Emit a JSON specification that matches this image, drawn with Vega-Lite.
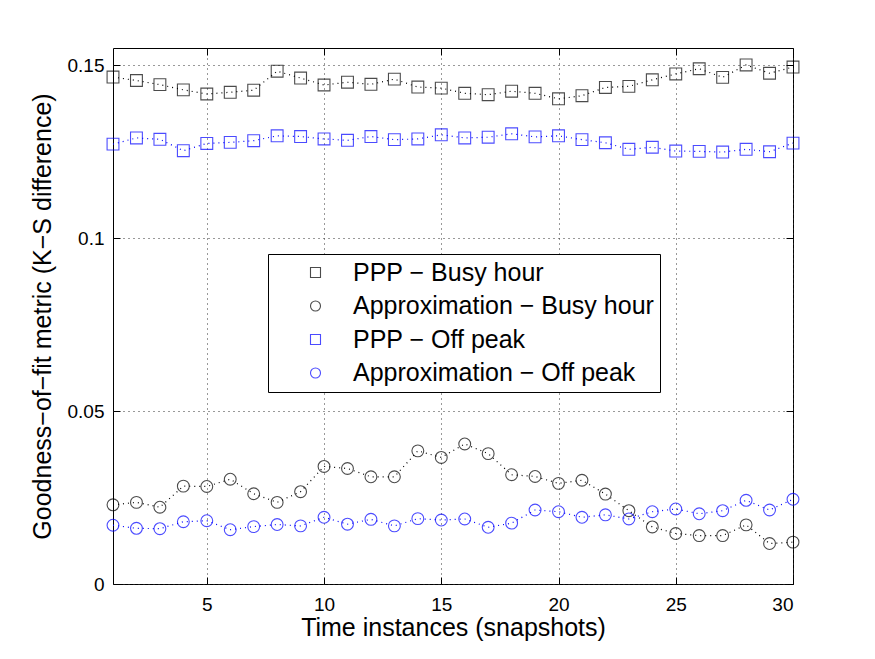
{
  "$schema": "https://vega.github.io/schema/vega-lite/v6.json",
  "autosize": "none",
  "width": 680,
  "height": 536,
  "padding": {"left": 113, "top": 48, "right": 82, "bottom": 75},
  "background": "white",
  "config": {
    "font": "Liberation Sans",
    "view": {"stroke": "#000", "strokeWidth": 1},
    "axis": {"labelFont": "Liberation Sans", "titleFont": "Liberation Sans", "labelColor": "#000", "titleColor": "#000", "titleFontWeight": "normal"},
    "legend": {"labelFont": "Liberation Sans", "labelColor": "#000"}
  },
  "data": {"values": [
    {"x":1,"v":0.1466,"s":"PPP − Busy hour"},{"x":2,"v":0.1456,"s":"PPP − Busy hour"},{"x":3,"v":0.1444,"s":"PPP − Busy hour"},{"x":4,"v":0.1429,"s":"PPP − Busy hour"},{"x":5,"v":0.1417,"s":"PPP − Busy hour"},{"x":6,"v":0.1422,"s":"PPP − Busy hour"},{"x":7,"v":0.1428,"s":"PPP − Busy hour"},{"x":8,"v":0.1483,"s":"PPP − Busy hour"},{"x":9,"v":0.1463,"s":"PPP − Busy hour"},{"x":10,"v":0.1443,"s":"PPP − Busy hour"},{"x":11,"v":0.1451,"s":"PPP − Busy hour"},{"x":12,"v":0.1445,"s":"PPP − Busy hour"},{"x":13,"v":0.1460,"s":"PPP − Busy hour"},{"x":14,"v":0.1437,"s":"PPP − Busy hour"},{"x":15,"v":0.1434,"s":"PPP − Busy hour"},{"x":16,"v":0.1419,"s":"PPP − Busy hour"},{"x":17,"v":0.1415,"s":"PPP − Busy hour"},{"x":18,"v":0.1425,"s":"PPP − Busy hour"},{"x":19,"v":0.1419,"s":"PPP − Busy hour"},{"x":20,"v":0.1403,"s":"PPP − Busy hour"},{"x":21,"v":0.1412,"s":"PPP − Busy hour"},{"x":22,"v":0.1436,"s":"PPP − Busy hour"},{"x":23,"v":0.1439,"s":"PPP − Busy hour"},{"x":24,"v":0.1458,"s":"PPP − Busy hour"},{"x":25,"v":0.1475,"s":"PPP − Busy hour"},{"x":26,"v":0.1490,"s":"PPP − Busy hour"},{"x":27,"v":0.1465,"s":"PPP − Busy hour"},{"x":28,"v":0.1501,"s":"PPP − Busy hour"},{"x":29,"v":0.1477,"s":"PPP − Busy hour"},{"x":30,"v":0.1495,"s":"PPP − Busy hour"},
    {"x":1,"v":0.0229,"s":"Approximation − Busy hour"},{"x":2,"v":0.0236,"s":"Approximation − Busy hour"},{"x":3,"v":0.0222,"s":"Approximation − Busy hour"},{"x":4,"v":0.0283,"s":"Approximation − Busy hour"},{"x":5,"v":0.0282,"s":"Approximation − Busy hour"},{"x":6,"v":0.0303,"s":"Approximation − Busy hour"},{"x":7,"v":0.0261,"s":"Approximation − Busy hour"},{"x":8,"v":0.0236,"s":"Approximation − Busy hour"},{"x":9,"v":0.0267,"s":"Approximation − Busy hour"},{"x":10,"v":0.0340,"s":"Approximation − Busy hour"},{"x":11,"v":0.0334,"s":"Approximation − Busy hour"},{"x":12,"v":0.0310,"s":"Approximation − Busy hour"},{"x":13,"v":0.0310,"s":"Approximation − Busy hour"},{"x":14,"v":0.0385,"s":"Approximation − Busy hour"},{"x":15,"v":0.0366,"s":"Approximation − Busy hour"},{"x":16,"v":0.0405,"s":"Approximation − Busy hour"},{"x":17,"v":0.0377,"s":"Approximation − Busy hour"},{"x":18,"v":0.0316,"s":"Approximation − Busy hour"},{"x":19,"v":0.0311,"s":"Approximation − Busy hour"},{"x":20,"v":0.0291,"s":"Approximation − Busy hour"},{"x":21,"v":0.0300,"s":"Approximation − Busy hour"},{"x":22,"v":0.0260,"s":"Approximation − Busy hour"},{"x":23,"v":0.0212,"s":"Approximation − Busy hour"},{"x":24,"v":0.0165,"s":"Approximation − Busy hour"},{"x":25,"v":0.0146,"s":"Approximation − Busy hour"},{"x":26,"v":0.0140,"s":"Approximation − Busy hour"},{"x":27,"v":0.0140,"s":"Approximation − Busy hour"},{"x":28,"v":0.0171,"s":"Approximation − Busy hour"},{"x":29,"v":0.0117,"s":"Approximation − Busy hour"},{"x":30,"v":0.0121,"s":"Approximation − Busy hour"},
    {"x":1,"v":0.1272,"s":"PPP − Off peak"},{"x":2,"v":0.1290,"s":"PPP − Off peak"},{"x":3,"v":0.1286,"s":"PPP − Off peak"},{"x":4,"v":0.1253,"s":"PPP − Off peak"},{"x":5,"v":0.1274,"s":"PPP − Off peak"},{"x":6,"v":0.1277,"s":"PPP − Off peak"},{"x":7,"v":0.1282,"s":"PPP − Off peak"},{"x":8,"v":0.1296,"s":"PPP − Off peak"},{"x":9,"v":0.1294,"s":"PPP − Off peak"},{"x":10,"v":0.1287,"s":"PPP − Off peak"},{"x":11,"v":0.1283,"s":"PPP − Off peak"},{"x":12,"v":0.1294,"s":"PPP − Off peak"},{"x":13,"v":0.1285,"s":"PPP − Off peak"},{"x":14,"v":0.1287,"s":"PPP − Off peak"},{"x":15,"v":0.1299,"s":"PPP − Off peak"},{"x":16,"v":0.1290,"s":"PPP − Off peak"},{"x":17,"v":0.1292,"s":"PPP − Off peak"},{"x":18,"v":0.1302,"s":"PPP − Off peak"},{"x":19,"v":0.1293,"s":"PPP − Off peak"},{"x":20,"v":0.1296,"s":"PPP − Off peak"},{"x":21,"v":0.1285,"s":"PPP − Off peak"},{"x":22,"v":0.1276,"s":"PPP − Off peak"},{"x":23,"v":0.1257,"s":"PPP − Off peak"},{"x":24,"v":0.1263,"s":"PPP − Off peak"},{"x":25,"v":0.1252,"s":"PPP − Off peak"},{"x":26,"v":0.1251,"s":"PPP − Off peak"},{"x":27,"v":0.1249,"s":"PPP − Off peak"},{"x":28,"v":0.1257,"s":"PPP − Off peak"},{"x":29,"v":0.1250,"s":"PPP − Off peak"},{"x":30,"v":0.1275,"s":"PPP − Off peak"},
    {"x":1,"v":0.0170,"s":"Approximation − Off peak"},{"x":2,"v":0.0161,"s":"Approximation − Off peak"},{"x":3,"v":0.0160,"s":"Approximation − Off peak"},{"x":4,"v":0.0180,"s":"Approximation − Off peak"},{"x":5,"v":0.0183,"s":"Approximation − Off peak"},{"x":6,"v":0.0157,"s":"Approximation − Off peak"},{"x":7,"v":0.0166,"s":"Approximation − Off peak"},{"x":8,"v":0.0172,"s":"Approximation − Off peak"},{"x":9,"v":0.0168,"s":"Approximation − Off peak"},{"x":10,"v":0.0193,"s":"Approximation − Off peak"},{"x":11,"v":0.0173,"s":"Approximation − Off peak"},{"x":12,"v":0.0187,"s":"Approximation − Off peak"},{"x":13,"v":0.0168,"s":"Approximation − Off peak"},{"x":14,"v":0.0189,"s":"Approximation − Off peak"},{"x":15,"v":0.0185,"s":"Approximation − Off peak"},{"x":16,"v":0.0188,"s":"Approximation − Off peak"},{"x":17,"v":0.0164,"s":"Approximation − Off peak"},{"x":18,"v":0.0176,"s":"Approximation − Off peak"},{"x":19,"v":0.0214,"s":"Approximation − Off peak"},{"x":20,"v":0.0209,"s":"Approximation − Off peak"},{"x":21,"v":0.0193,"s":"Approximation − Off peak"},{"x":22,"v":0.0200,"s":"Approximation − Off peak"},{"x":23,"v":0.0188,"s":"Approximation − Off peak"},{"x":24,"v":0.0209,"s":"Approximation − Off peak"},{"x":25,"v":0.0217,"s":"Approximation − Off peak"},{"x":26,"v":0.0203,"s":"Approximation − Off peak"},{"x":27,"v":0.0212,"s":"Approximation − Off peak"},{"x":28,"v":0.0242,"s":"Approximation − Off peak"},{"x":29,"v":0.0214,"s":"Approximation − Off peak"},{"x":30,"v":0.0245,"s":"Approximation − Off peak"}
  ]},
  "resolve": {"axis": {"x": "independent", "y": "independent"}},
  "layer": [
    {
      "mark": {"type": "point", "filled": false, "strokeWidth": 1.1},
      "encoding": {
        "x": {"field": "x", "type": "quantitative", "scale": {"domain": [1, 30], "nice": false, "zero": false},
          "axis": {"orient": "bottom", "values": [5, 10, 15, 20, 25, 30], "domain": false, "grid": true, "gridDash": [1, 4], "gridColor": "#333", "gridWidth": 1, "tickSize": -7, "tickColor": "#000", "labelFontSize": 19, "labelPadding": 18, "title": "Time instances (snapshots)", "titleFontSize": 25, "titlePadding": 1}},
        "y": {"field": "v", "type": "quantitative", "scale": {"domain": [0, 0.155], "nice": false},
          "axis": {"orient": "left", "values": [0, 0.05, 0.1, 0.15], "format": ".2~f", "domain": false, "grid": true, "gridDash": [1, 4], "gridColor": "#333", "gridWidth": 1, "tickSize": -7, "tickColor": "#000", "labelFontSize": 19, "labelPadding": 16, "title": "Goodness−of−fit metric (K−S difference)", "titleFontSize": 25, "titlePadding": 12}},
        "color": {"field": "s", "type": "nominal",
          "scale": {"domain": ["PPP − Busy hour", "Approximation − Busy hour", "PPP − Off peak", "Approximation − Off peak"], "range": ["#000000", "#000000", "#0000ff", "#0000ff"]},
          "legend": {"title": null, "orient": "none", "legendX": 155, "legendY": 206, "direction": "vertical", "fillColor": "white", "strokeColor": "#000", "padding": 6, "labelFontSize": 25, "labelLimit": 450, "symbolSize": 100, "symbolStrokeWidth": 1.1, "symbolOffset": 29, "labelOffset": 25, "rowPadding": 7.5,
            "encode": {"symbols": {"update": {"shape": {"signal": "indexof(datum.value, 'PPP') === 0 ? 'M-1,-1H1V1H-1Z M-6.4,0h0.3M-5.4,0h0.3M-4.4,0h0.3M-3.4,0h0.3M-2.4,0h0.3M2.1,0h0.3M3.1,0h0.3M4.1,0h0.3M5.1,0h0.3' : 'M1,0A1,1,0,1,1,-1,0A1,1,0,1,1,1,0Z M-6.4,0h0.3M-5.4,0h0.3M-4.4,0h0.3M-3.4,0h0.3M-2.4,0h0.3M2.1,0h0.3M3.1,0h0.3M4.1,0h0.3M5.1,0h0.3'"}}}}}},
        "shape": {"field": "s", "type": "nominal",
          "scale": {"domain": ["PPP − Busy hour", "Approximation − Busy hour", "PPP − Off peak", "Approximation − Off peak"], "range": ["square", "circle", "square", "circle"]},
          "legend": {"title": null, "orient": "none", "legendX": 155, "legendY": 206, "direction": "vertical", "fillColor": "white", "strokeColor": "#000", "padding": 6, "labelFontSize": 25, "labelLimit": 450, "symbolSize": 100, "symbolStrokeWidth": 1.1, "symbolOffset": 29, "labelOffset": 25, "rowPadding": 7.5,
            "encode": {"symbols": {"update": {"shape": {"signal": "indexof(datum.value, 'PPP') === 0 ? 'M-1,-1H1V1H-1Z M-6.4,0h0.3M-5.4,0h0.3M-4.4,0h0.3M-3.4,0h0.3M-2.4,0h0.3M2.1,0h0.3M3.1,0h0.3M4.1,0h0.3M5.1,0h0.3' : 'M1,0A1,1,0,1,1,-1,0A1,1,0,1,1,1,0Z M-6.4,0h0.3M-5.4,0h0.3M-4.4,0h0.3M-3.4,0h0.3M-2.4,0h0.3M2.1,0h0.3M3.1,0h0.3M4.1,0h0.3M5.1,0h0.3'"}}}}}},
        "size": {"value": 140}
      }
    },
    {
      "mark": {"type": "line", "strokeDash": [1, 4], "strokeWidth": 1.2},
      "encoding": {
        "x": {"field": "x", "type": "quantitative",
          "axis": {"orient": "top", "values": [5, 10, 15, 20, 25, 30], "labels": false, "domain": false, "grid": false, "tickSize": -7, "tickColor": "#000", "title": null}},
        "y": {"field": "v", "type": "quantitative",
          "axis": {"orient": "right", "values": [0, 0.05, 0.1, 0.15], "labels": false, "domain": false, "grid": false, "tickSize": -7, "tickColor": "#000", "title": null}},
        "color": {"field": "s", "type": "nominal"}
      }
    }
  ]
}
